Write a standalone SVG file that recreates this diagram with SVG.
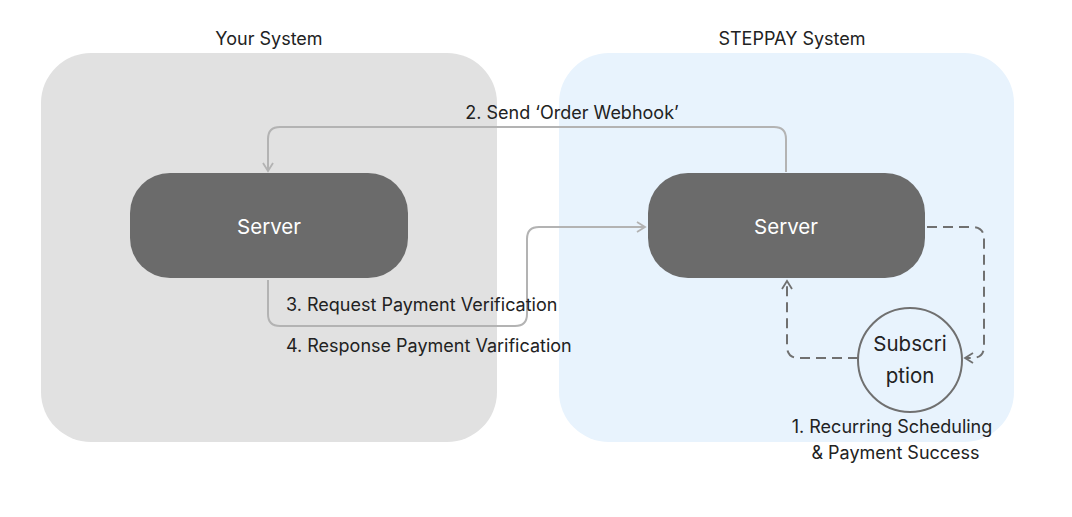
<svg xmlns="http://www.w3.org/2000/svg" width="1072" height="517" viewBox="0 0 1072 517">
<defs>
<style>
text{font-family:Inter,"Noto Sans",sans-serif;fill:#222}
.lbl{font-size:18px}
.title{font-size:18px;text-anchor:middle}
.srv{fill:#6b6b6b}
.srvt{font-size:20.5px;fill:#fff;text-anchor:middle}
.solid{fill:none;stroke:#b3b3b3;stroke-width:2}
.dash{fill:none;stroke:#707070;stroke-width:2;stroke-dasharray:10 6}
</style>
<marker id="ah" viewBox="0 0 12 12" refX="10" refY="6" markerWidth="12" markerHeight="12" markerUnits="userSpaceOnUse" orient="auto">
<path d="M2,1 L10,6 L2,11" fill="none" stroke="#b3b3b3" stroke-width="1.8"/>
</marker>
<marker id="ahd" viewBox="0 0 12 12" refX="10" refY="6" markerWidth="12" markerHeight="12" markerUnits="userSpaceOnUse" orient="auto">
<path d="M2,1 L10,6 L2,11" fill="none" stroke="#707070" stroke-width="1.8"/>
</marker>
</defs>
<rect width="1072" height="517" fill="#fff"/>
<g id="your-system">
<rect x="41" y="53" width="456" height="389" rx="50" fill="#e1e1e1"/>
<text class="title" x="269" y="45">Your System</text>
</g>
<g id="steppay-system">
<rect x="559" y="53" width="455" height="389" rx="50" fill="#e8f3fd"/>
<text class="title" x="792" y="45">STEPPAY System</text>
</g>
<g id="connectors">
<path class="solid" d="M786,172 V139 Q786,127 774,127 H280 Q268,127 268,139 V171" marker-end="url(#ah)"/>
<path class="solid" d="M268,280 V314 Q268,326 280,326 H515 Q527,326 527,314 V239 Q527,227 539,227 H645" marker-end="url(#ah)"/>
<path class="dash" d="M927,227 H972 Q984,227 984,239 V346 Q984,358 972,358 H965" marker-end="url(#ahd)"/>
<path class="dash" d="M858,358 H799 Q787,358 787,346 V281" marker-end="url(#ahd)"/>
<text class="lbl" x="572" y="119" text-anchor="middle">2. Send ‘Order Webhook’</text>
<text class="lbl" x="286" y="311">3. Request Payment Verification</text>
<text class="lbl" x="286" y="352">4. Response Payment Varification</text>
<text class="lbl" x="892" y="433" text-anchor="middle">1. Recurring Scheduling</text>
<text class="lbl" x="895.5" y="459" text-anchor="middle">&amp; Payment Success</text>
</g>
<g id="server-left">
<rect class="srv" x="130" y="173" width="278" height="105" rx="40"/>
<text class="srvt" x="269" y="234">Server</text>
</g>
<g id="server-right">
<rect class="srv" x="648" y="173" width="277" height="105" rx="40"/>
<text class="srvt" x="786" y="234">Server</text>
</g>
<g id="subscription">
<circle cx="910" cy="360" r="52" fill="#e8f3fd" stroke="#707070" stroke-width="2"/>
<text x="910" y="351" font-size="20.5" text-anchor="middle">Subscri</text>
<text x="910" y="383" font-size="20.5" text-anchor="middle">ption</text>
</g>
</svg>
